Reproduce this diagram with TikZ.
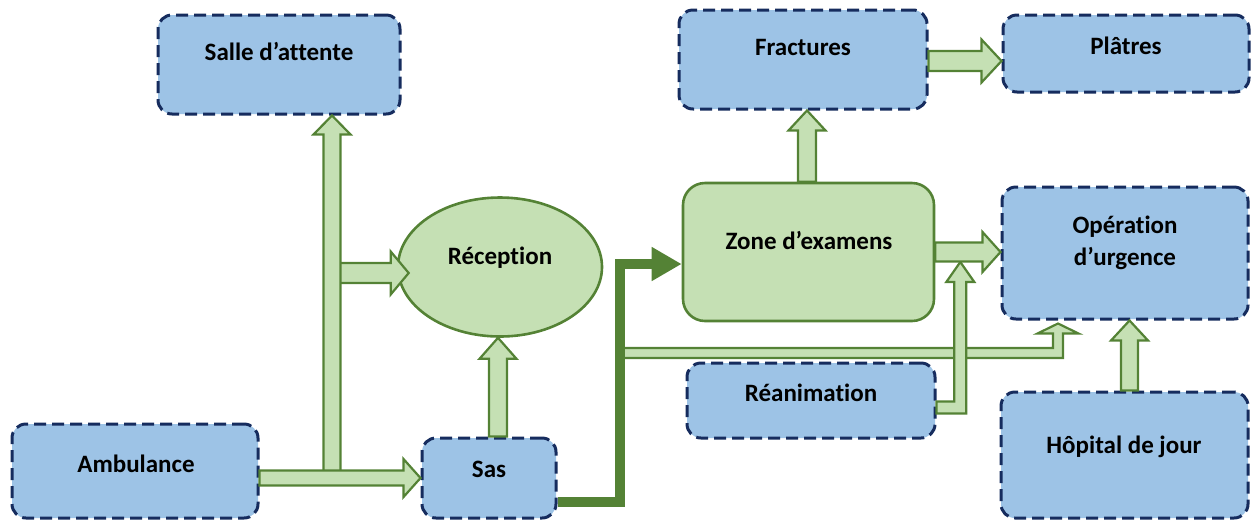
\documentclass[tikz,border=0pt]{standalone}
\usepackage{fontspec}
\setmainfont{Carlito}[Ligatures=CommonOff]
\usetikzlibrary{calc,shapes.geometric,arrows.meta}

\definecolor{boxblue}{HTML}{9DC3E6}
\definecolor{navy}{RGB}{22,44,94}
\definecolor{leaf}{HTML}{C5E0B4}
\definecolor{moss}{HTML}{548235}

\tikzset{
  room/.style={draw=navy, fill=boxblue, line width=1.5pt, dash pattern=on 6pt off 3pt,
               rounded corners=7pt, inner sep=0pt},
  hub/.style={draw=moss, fill=leaf, line width=1.3pt, inner sep=0pt},
  caption/.style={font=\bfseries\fontsize{12.5pt}{16pt}\selectfont, anchor=base, inner sep=0pt},
  hollow/.style={draw=moss, fill=leaf, line width=1.1pt, line join=miter},
  mainflow/.style={draw=moss, line width=5pt, line join=miter,
                   -{Triangle[length=15pt,width=16pt]}},
}

% straight block arrow: [style] {start} {end} {half shaft} {half head} {head length}
\newcommand\hollowarrow[6][]{%
  \coordinate (ha-s) at (#2);
  \coordinate (ha-e) at (#3);
  \coordinate (ha-c) at ($(ha-e)!#6!(ha-s)$);
  \draw[hollow,#1] ($(ha-s)!#4!90:(ha-e)$) -- ($(ha-c)!#4!90:(ha-e)$)
     -- ($(ha-c)!#5!90:(ha-e)$) -- (ha-e) -- ($(ha-c)!#5!-90:(ha-e)$)
     -- ($(ha-c)!#4!-90:(ha-e)$) -- ($(ha-s)!#4!-90:(ha-e)$) -- cycle;
}

\begin{document}
\begin{tikzpicture}[x=0.5pt, y=-0.5pt]
\useasboundingbox (0,0) rectangle (1257,521);

% rooms
\node[room, minimum width=121pt, minimum height=49.5pt] (salle) at (279,64.5) {};
\node[room, minimum width=123pt, minimum height=47pt] (amb) at (135,471) {};
\node[room, minimum width=67pt, minimum height=40pt] (sas) at (489,478) {};
\node[room, minimum width=124pt, minimum height=49.5pt] (fract) at (803,59.5) {};
\node[room, minimum width=123pt, minimum height=38.5pt] (plat) at (1126,53.5) {};
\node[room, minimum width=123pt, minimum height=66pt] (op) at (1125,253) {};
\node[room, minimum width=124pt, minimum height=37.5pt] (rea) at (811,400.5) {};
\node[room, minimum width=123.5pt, minimum height=63pt] (hop) at (1124.5,455) {};

% reception and examination area
\node[hub, ellipse, minimum width=102pt, minimum height=69.5pt] (rec) at (500,267) {};
\node[hub, rectangle, rounded corners=11pt, minimum width=125.5pt, minimum height=69pt] (zone) at (808.5,252) {};

% captions
\node[caption] (salle-t) at (279,60) {Salle d’attente};
\node[caption] (amb-t) at (136,472) {Ambulance};
\node[caption] (sas-t) at (489,477) {Sas};
\node[caption] (rec-t) at (500,264) {Réception};
\node[caption] (zone-t) at (809,249) {Zone d’examens};
\node[caption] (fract-t) at (803,55) {Fractures};
\node[caption] (plat-t) at (1126,54) {Plâtres};
\node[caption] (op-t1) at (1125,233) {Opération};
\node[caption] (op-t2) at (1125,265) {d’urgence};
\node[caption] (rea-t) at (811,401) {Réanimation};
\node[caption] (hop-t) at (1124,453) {Hôpital de jour};

% junction points of the branching arrow
\coordinate (j1) at ($(sas.west)+(-88.5,0)$);
\coordinate (j2) at (j1 |- 0,273);
\coordinate (rtip) at ($(j2 -| rec.west)+(12,0)$);

\hollowarrow{j2}{rtip}{5pt}{10.75pt}{9pt}
\hollowarrow{j1}{j1 |- salle.south}{4.25pt}{9.25pt}{9.5pt}
\hollowarrow{amb.east |- sas.west}{sas.west}{3.75pt}{9.5pt}{8.5pt}

% Sas up to reception
\coordinate (sas-up) at ($(sas.north)+(9,0)$);
\hollowarrow{sas-up}{sas-up |- rec.south}{4.5pt}{9.25pt}{10.5pt}

% main flow from Sas to the examination area
\coordinate (sas-out) at ($(sas.east)+(0,24)$);
\coordinate (dark-k1) at ($(sas-out)+(62,0)$);
\coordinate (dark-e) at ($(zone.west)+(0,12)$);
\coordinate (dark-k2) at (dark-k1 |- dark-e);

% thin arrow along to the emergency operation room
\coordinate (thin-s) at ($(dark-k2)+(0,89)$);
\coordinate (thin-tip) at ($(op.south)+(-67,3)$);
\coordinate (thin-k) at (thin-tip |- thin-s);
\draw[hollow] ($(thin-s)+(0,-5)$) -- ($(thin-k)+(-5,-5)$) -- ($(thin-tip)+(-5,10)$)
  -- ($(thin-tip)+(-20.5,10)$) -- (thin-tip) -- ($(thin-tip)+(20.5,10)$)
  -- ($(thin-tip)+(5,10)$) -- ($(thin-k)+(5,5)$) -- ($(thin-s)+(0,5)$) -- cycle;

\draw[mainflow] (sas-out) -- (dark-k1) -- (dark-k2) -- (dark-e);

% Réanimation joins the flow towards the operation room
\coordinate (rea-out) at ($(rea.east)+(0,7)$);
\coordinate (rea-tip) at ($(zone.east)+(25,10)$);
\coordinate (rea-k) at (rea-tip |- rea-out);
\draw[hollow] ($(rea-out)+(0,-6)$) -- ($(rea-k)+(-6,-6)$) -- ($(rea-tip)+(-6,20)$)
  -- ($(rea-tip)+(-14,20)$) -- (rea-tip) -- ($(rea-tip)+(14,20)$)
  -- ($(rea-tip)+(6,20)$) -- ($(rea-k)+(6,6)$) -- ($(rea-out)+(0,6)$) -- cycle;

\hollowarrow{zone.east}{zone.east -| op.west}{4.75pt}{10pt}{9pt}

% examination area up to fractures, then plasters
\coordinate (zone-up) at ($(zone.north)+(-1.5,0)$);
\hollowarrow{zone-up}{zone-up |- fract.south}{4.5pt}{9.25pt}{10pt}
\coordinate (fract-out) at ($(fract.east)+(0,1.5)$);
\hollowarrow{fract-out}{fract-out -| plat.west}{5pt}{10.75pt}{10pt}

% day hospital up to the operation room
\coordinate (hop-up) at ($(hop.north)+(5,0)$);
\hollowarrow{hop-up}{hop-up |- op.south}{4.25pt}{9.25pt}{10pt}
\end{tikzpicture}
\end{document}
